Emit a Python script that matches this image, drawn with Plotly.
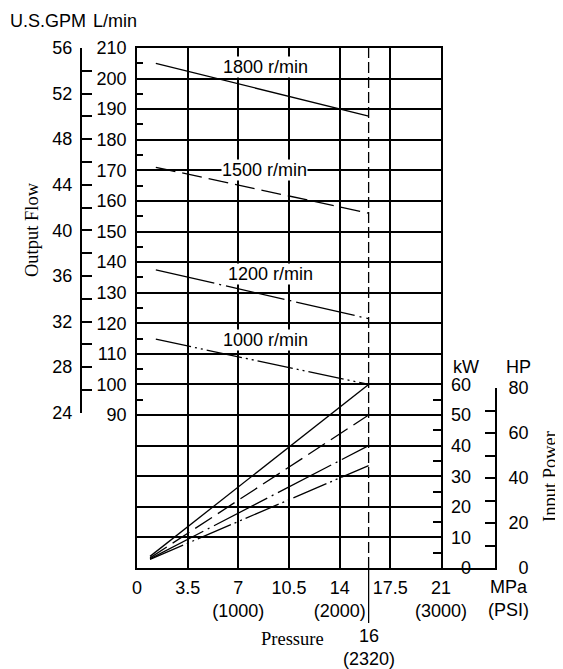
import plotly.graph_objects as go

# ---------------- data ----------------
rpm_labels = ["1800 r/min", "1500 r/min", "1200 r/min", "1000 r/min"]

flow_pressure = [1.3, 16.0]          # MPa
flow_1800 = [205.0, 187.7]           # L/min
flow_1500 = [171.0, 156.0]
flow_1200 = [137.5, 121.5]
flow_1000 = [114.8, 100.0]

power_pressure = [0.9, 16.0]         # MPa
power_1800 = [3.8, 60.0]             # kW
power_1500 = [3.3, 50.0]
power_1200 = [3.0, 40.0]
power_1000 = [2.8, 33.5]

rated_pressure = 16.0                # MPa
rated_psi = "2320"

pressure_ticks = [0, 3.5, 7, 10.5, 14, 17.5, 21]
psi_labels = {7: "1000", 14: "2000", 21: "3000"}
lmin_grid = list(range(50, 211, 10))
lmin_labelled_from = 90
gpm_ticks = list(range(24, 57, 2))
kw_ticks = list(range(0, 61, 10))
hp_ticks = list(range(0, 81, 10))

label_pressure = [8.85, 8.8, 9.25, 8.9]
label_flow = [203.9, 170.2, 136.2, 114.4]

# ---------------- layout geometry ----------------
OFF = 8                                # page body margin
W, H = 563 - OFF, 669 - OFF
PL, PR, PT, PB = 137, 441, 48, 568     # main plot area in page px
HP_X = 495
GPM_X = 80.7
SANS = "Liberation Sans, Arial, sans-serif"
SERIF = "Liberation Serif, Times New Roman, serif"
FS = 18
FSS = 18.5
PH = PB - PT


def px_x(p):
    return (p - OFF) / W


def px_y(p):
    return (PB - p) / PH


flow_lo, flow_hi = 40, 210
gpm_bottom_px = 412.7
hp_top_px = 388

line_w = 1.3
dash_styles = ["solid", "20px,7px", "60px,5px,2px,5px", "36px,4px,2px,4px,2px,4px"]
flows = [flow_1800, flow_1500, flow_1200, flow_1000]
powers = [power_1800, power_1500, power_1200, power_1000]

fig = go.Figure()

for f, d in zip(flows, dash_styles):
    fig.add_trace(go.Scatter(x=flow_pressure, y=f, mode="lines",
                             line=dict(color="black", width=line_w, dash=d),
                             xaxis="x", yaxis="y", showlegend=False, hoverinfo="skip"))

for p, d in zip(powers, dash_styles):
    fig.add_trace(go.Scatter(x=power_pressure, y=p, mode="lines",
                             line=dict(color="black", width=line_w, dash=d),
                             xaxis="x", yaxis="y3", showlegend=False, hoverinfo="skip"))

# rated pressure line
fig.add_trace(go.Scatter(x=[rated_pressure, rated_pressure], y=[flow_lo, flow_hi], mode="lines",
                         line=dict(color="black", width=line_w, dash="11px,4px"),
                         xaxis="x", yaxis="y", showlegend=False, hoverinfo="skip"))

# dummy traces so the auxiliary axes get drawn
fig.add_trace(go.Scatter(x=[None], y=[None], xaxis="x", yaxis="y2", showlegend=False, hoverinfo="skip"))
fig.add_trace(go.Scatter(x=[None], y=[None], xaxis="x2", yaxis="y4", showlegend=False, hoverinfo="skip"))

axis_common = dict(color="black", zeroline=False, automargin=False,
                   tickfont=dict(family=SANS, size=FS, color="black"))

x_text = []
for v in pressure_ticks:
    lab = ("%g" % v)
    if v in psi_labels:
        lab += "<br>(" + psi_labels[v] + ")"
    x_text.append(lab)

fig.update_layout(
    width=W, height=H,
    margin=dict(l=0, r=0, t=PT - OFF, b=H - (PB - OFF), pad=0),
    paper_bgcolor="white", plot_bgcolor="rgba(0,0,0,0)",
    template="none",
    showlegend=False,
    xaxis=dict(domain=[px_x(PL), px_x(PR)], range=[0, 21], tickmode="array",
               tickvals=pressure_ticks, ticktext=x_text, ticks="", showgrid=True,
               gridcolor="black", gridwidth=1.7, showline=True, mirror=True,
               linewidth=1.9, linecolor="black", anchor="y", ticklabelstandoff=2,
               **axis_common),
    yaxis=dict(domain=[0, 1], range=[flow_lo, flow_hi], tickmode="array",
               tickvals=lmin_grid,
               ticktext=[str(v) if v >= lmin_labelled_from else "" for v in lmin_grid],
               ticks="", showgrid=True, gridcolor="black", gridwidth=1.7,
               showline=True, mirror=True, linewidth=1.9, linecolor="black",
               anchor="x", ticklabelstandoff=5,
               minor=dict(tickmode="array", tickvals=[v + 5 for v in lmin_grid if v >= 90 and v < 210],
                          ticks="inside", ticklen=6, tickwidth=1.5, tickcolor="black", showgrid=False),
               **axis_common),
    yaxis2=dict(domain=[px_y(gpm_bottom_px), 1], range=[24, 56], anchor="free",
                position=px_x(GPM_X), side="left", tickmode="array", tickvals=gpm_ticks,
                ticktext=[str(v) if v % 4 == 0 else "" for v in gpm_ticks],
                ticks="inside", ticklen=10, tickwidth=1.6, tickcolor="black",
                showline=True, linewidth=1.8, linecolor="black", showgrid=False,
                ticklabelstandoff=4, **axis_common),
    yaxis3=dict(domain=[0, (60) / (flow_hi - flow_lo)], range=[0, 60], anchor="x",
                side="right", tickmode="array", tickvals=kw_ticks,
                ticktext=["\u00a0\u00a0" + str(v) if v < 10 else str(v) for v in kw_ticks],
                ticks="", showline=False, showgrid=False, ticklabelstandoff=9,
                minor=dict(tickmode="array", tickvals=[v + 5 for v in kw_ticks[:-1]],
                           ticks="inside", ticklen=8, tickwidth=1.5, tickcolor="black", showgrid=False),
                **axis_common),
    xaxis2=dict(domain=[px_x(PR), px_x(HP_X)], range=[0, 1], anchor="y4",
                showline=True, linewidth=1.9, linecolor="black", ticks="",
                showticklabels=False, showgrid=False, zeroline=False, automargin=False),
    yaxis4=dict(domain=[0, px_y(hp_top_px)], range=[0, 80], anchor="x2", side="right",
                tickmode="array", tickvals=hp_ticks,
                ticktext=[("\u00a0\u00a0" + str(v) if v < 10 else str(v)) if v % 20 == 0 else "" for v in hp_ticks],
                ticks="inside", ticklen=10, tickwidth=1.6, tickcolor="black",
                showline=True, linewidth=1.8, linecolor="black", showgrid=False,
                ticklabelstandoff=8, **axis_common),
)

# rated pressure extension below the axis
fig.add_shape(type="line", xref="x", yref="paper", x0=rated_pressure, x1=rated_pressure,
              y0=0, y1=px_y(623), line=dict(color="black", width=line_w))

ann = []
for t, xp, yf in zip(rpm_labels, label_pressure, label_flow):
    ann.append(dict(x=xp, y=yf, xref="x", yref="y", text=t, showarrow=False,
                    xanchor="center", yanchor="middle",
                    font=dict(family=SANS, size=FS, color="black"),
                    bgcolor="white", borderpad=0))

extra = [
    dict(x=px_x(8), y=px_y(21), text="U.S.GPM", xanchor="left", font=dict(family=SANS, size=FS)),
    dict(x=px_x(139), y=px_y(21), text="L/min", xanchor="right", font=dict(family=SANS, size=FS)),
    dict(x=px_x(32), y=px_y(230), text="Output Flow", textangle=-90, font=dict(family=SERIF, size=FSS)),
    dict(x=px_x(466), y=px_y(367), text="kW", font=dict(family=SANS, size=FS)),
    dict(x=px_x(518), y=px_y(367), text="HP", font=dict(family=SANS, size=FS)),
    dict(x=px_x(550), y=px_y(477), text="Input Power", textangle=-90, font=dict(family=SERIF, size=FSS)),
    dict(x=px_x(508), y=px_y(598), text="MPa<br>(PSI)", font=dict(family=SANS, size=FS)),
    dict(x=px_x(292), y=px_y(639), text="Pressure", font=dict(family=SERIF, size=FSS)),
]
for a in extra:
    a.setdefault("xanchor", "center")
    a.update(xref="paper", yref="paper", showarrow=False, yanchor="middle")
    a["font"]["color"] = "black"
ann += extra

ann.append(dict(x=rated_pressure, y=px_y(647.5), xref="x", yref="paper",
                xanchor="center", yanchor="middle",
                text="%g<br>(%s)" % (rated_pressure, rated_psi), showarrow=False,
                font=dict(family=SANS, size=FS, color="black")))

fig.update_layout(annotations=ann)

fig.write_html("out.html")
